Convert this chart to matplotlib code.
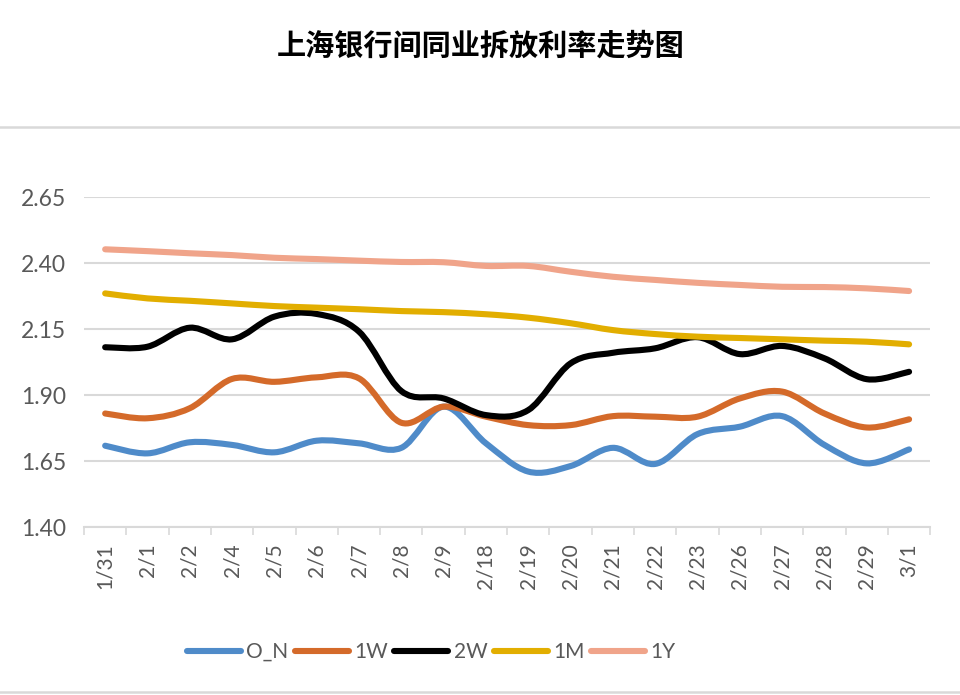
import matplotlib.pyplot as plt
import numpy as np
from matplotlib.path import Path
from matplotlib.patches import PathPatch
from matplotlib.lines import Line2D

# データ
dates = ['1/31', '2/1', '2/2', '2/4', '2/5', '2/6', '2/7', '2/8', '2/9', '2/18',
         '2/19', '2/20', '2/21', '2/22', '2/23', '2/26', '2/27', '2/28', '2/29', '3/1']
o_n = [1.708, 1.679, 1.721, 1.711, 1.683, 1.727, 1.717, 1.700, 1.856, 1.717,
       1.610, 1.631, 1.700, 1.639, 1.752, 1.780, 1.820, 1.711, 1.641, 1.694]
w1 = [1.830, 1.812, 1.850, 1.961, 1.950, 1.967, 1.963, 1.795, 1.856, 1.818,
      1.786, 1.786, 1.820, 1.818, 1.818, 1.887, 1.913, 1.830, 1.777, 1.808]
w2 = [2.081, 2.083, 2.155, 2.111, 2.197, 2.207, 2.140, 1.915, 1.887, 1.824,
      1.843, 2.020, 2.060, 2.077, 2.119, 2.055, 2.086, 2.039, 1.960, 1.988]
m1 = [2.285, 2.266, 2.257, 2.247, 2.237, 2.231, 2.225, 2.218, 2.214, 2.206,
      2.193, 2.172, 2.146, 2.131, 2.121, 2.116, 2.111, 2.106, 2.102, 2.092]
y1 = [2.452, 2.445, 2.437, 2.430, 2.420, 2.415, 2.409, 2.404, 2.403, 2.389,
      2.389, 2.367, 2.348, 2.336, 2.325, 2.317, 2.310, 2.309, 2.304, 2.294]
names = ['O_N', '1W', '2W', '1M', '1Y']
colors = ['#4F8BC9', '#D46A2A', '#000000', '#E2AE00', '#F0A48A']
yticks = [1.40, 1.65, 1.90, 2.15, 2.40, 2.65]


def smooth_path(xs, ys):
    # Excel風のスムージング (Catmull-Rom -> Bezier)
    p = np.column_stack([xs, ys]).astype(float)
    ext = np.vstack([p[0], p, p[-1]])
    verts = [p[0]]
    codes = [Path.MOVETO]
    for i in range(len(p) - 1):
        p0, p1, p2, p3 = ext[i], ext[i + 1], ext[i + 2], ext[i + 3]
        verts += [p1 + (p2 - p0) / 6, p2 - (p3 - p1) / 6, p2]
        codes += [Path.CURVE4] * 3
    return Path(verts, codes)


def main():
    plt.rcParams['font.family'] = ['Lato', 'DejaVu Sans']
    fig = plt.figure(figsize=(9.6, 6.95), dpi=100, facecolor='w')
    ax = fig.add_axes([0.0875, 0.2417, 0.8815, 0.4748])

    x = np.arange(len(dates))
    handles = []
    for vals, name, c in zip([o_n, w1, w2, m1, y1], names, colors):
        patch = PathPatch(smooth_path(x, vals), fill=False, edgecolor=c,
                          lw=4.4, capstyle='round', joinstyle='round', zorder=3)
        ax.add_patch(patch)
        handles.append(Line2D([], [], color=c, lw=4.4, solid_capstyle='round', label=name))

    ax.set_xlim(-0.5, len(dates) - 0.5)
    ax.set_ylim(1.40, 2.65)
    ax.set_yticks(yticks)
    ax.set_yticklabels(['{:.2f}'.format(v) for v in yticks])
    ax.set_xticks(x)
    ax.set_xticklabels(dates, rotation=90)
    ax.set_xticks(np.arange(len(dates) + 1) - 0.5, minor=True)
    ax.tick_params(axis='x', which='major', length=0, pad=12, labelsize=15, labelcolor='#595959')
    ax.tick_params(axis='x', which='minor', length=6, width=1.2, color='#D9D9D9')
    ax.tick_params(axis='y', length=0, pad=13, labelsize=16.5, labelcolor='#595959')
    ax.grid(axis='y', color='#D9D9D9', lw=1.5, zorder=0)
    for s in ['top', 'left', 'right']:
        ax.spines[s].set_visible(False)
    ax.spines['bottom'].set_color('#D9D9D9')
    ax.spines['bottom'].set_linewidth(1.5)
    ax.set_axisbelow(True)

    fig.text(0.501, 0.935, '上海银行间同业拆放利率走势图', ha='center', va='center',
             fontsize=21, fontweight='heavy', family=['Noto Sans CJK SC', 'DejaVu Sans'])

    fig.legend(handles=handles, loc='center', bbox_to_anchor=(0.449, 0.062), ncol=5,
               frameon=False, fontsize=15, handlelength=2.6, handletextpad=0.25,
               columnspacing=0.3, labelcolor='#595959')

    # 枠線
    fig.add_artist(Line2D([0, 1], [0.817, 0.817], transform=fig.transFigure, color='#D9D9D9', lw=1.8))
    fig.add_artist(Line2D([0, 1], [0.005, 0.005], transform=fig.transFigure, color='#D9D9D9', lw=1.8))

    plt.savefig('out.png', dpi=100)


if __name__ == '__main__': main()
